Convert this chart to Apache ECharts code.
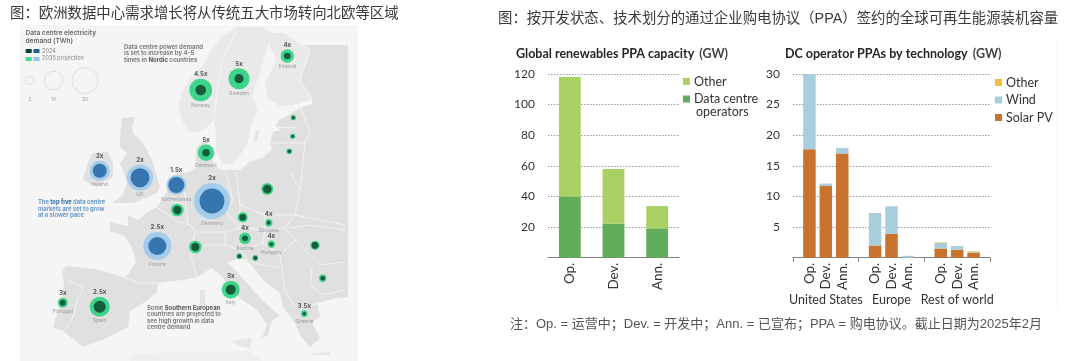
<!DOCTYPE html>
<html>
<head>
<meta charset="utf-8">
<script src="https://cdn.jsdelivr.net/npm/echarts@6/dist/echarts.min.js"></script>
<style>
html, body { margin: 0; padding: 0; background: #fff; }
#chart { width: 1080px; height: 361px; }
</style>
</head>
<body>
<div id="chart"></div>
<script>
// map sites: map units, 2024 and 2035 demand in TWh, growth label
var siteNames = ['Finland','Sweden','Norway','Denmark','Estonia','Latvia','Lithuania','Ireland','UK','Netherlands','Belgium','France','Switzerland','Spain','Portugal','Germany','Poland','Czechia','Slovakia','Austria','Hungary','Slovenia','Croatia','Romania','Bulgaria','Italy','Greece'];
var siteEast  = [287.3,239,200.7,206,293.3,292.7,289.3,99.7,140,176.3,177.3,157.3,195.3,99.7,62.7,212,267.3,242.7,268.7,245,271.3,239.3,255.3,315,322.7,230.7,304.3];
var siteSouth = [56,78.7,90,152.7,117.7,136.3,151.3,170.7,177.7,185,210,246,247,306.7,302.7,201,189,217.3,222.7,238.3,244.3,256.3,258,245.3,278.3,289.7,313.7];
var twh2024   = [1.3,2.5,3.3,1.7,0.3,0.3,0.35,5.7,10.5,7.5,2,9.5,2,4.2,1,18,2.2,1.3,0.45,1,0.45,0.45,0.45,1.3,0.6,3,0.35];
var twh2035   = [5.2,13,15,8,0.8,0.8,1,11.7,20,11.7,4.7,23,4.7,11.7,3,38,4.2,3,1.6,4,1.6,1,1,2.5,1.6,9.5,1.3];
var growth    = ['4x','5x','4.5x','5x','','','','2x','2x','1.5x','','2.5x','','2.5x','3x','2x','','','4x','4x','4x','','','','','3x','3.5x'];
var unnamedSites = ['Estonia','Latvia','Lithuania','Belgium','Switzerland','Poland','Czechia','Slovenia','Croatia','Romania','Bulgaria'];
var topFive = ['Ireland','UK','Netherlands','France','Germany'];
var sizeKeyValues = [2,10,20];
var sizeKeyEast = [30,53.5,85];

// left bar chart
var statusLabels = ['Op.','Dev.','Ann.'];
var dcOperators = [40,22.2,19.2];
var otherPpa = [78,35.7,14.5];

// right bar chart
var regionLabels = ['United States','Europe','Rest of world'];
var techSlots = ['','Op.','Dev.','Ann.','','Op.','Dev.','Ann.','','Op.','Dev.','Ann.',''];
var solarPv  = [null,17.7,11.7,17,null,2,3.9,0,null,1.5,1.3,0.8,null];
var wind     = [null,12.3,0.4,0.9,null,5.3,4.5,0.3,null,0.9,0.6,0.15,null];
var otherTech= [null,0,0,0,null,0,0,0,null,0.1,0,0.1,null];

var GREEN_DARK = '#0c3d27', GREEN = '#12d072', BLUE = '#1c5f9f', BLUE_LIGHT = '#94c5ec';
var SANS = 'Inter, "Noto Sans", sans-serif';
var CJK = '"Liberation Sans", "Noto Sans CJK SC", sans-serif';

// schematic outline of the map, traced by hand
function poly(name, pts) {
    return { type: 'Feature', properties: { name: name }, geometry: { type: 'Polygon', coordinates: [pts] } };
}
var mapShapes = { type: 'FeatureCollection', features: [
    poly('panel', [[20,25],[358,25],[358,361],[20,361],[20,25]]),
    poly('africa', [[130,361],[134,354],[180,352],[250,351],[262,361],[130,361]]),
    poly('continent', [[270,48],[277,58],[272,70],[265,85],[268,98],[280,106],[297,104],[312,99],[312,104],[300,108],[285,117],[279,120],[275,127],[282,130],[273,132],[270,143],[272,150],[262,158],[250,162],[240,170],[222,170],[213,166],[213,152],[206,138],[196,148],[196,168],[186,173],[178,172],[170,185],[163,198],[157,207],[148,212],[138,220],[128,215],[128,226],[110,222],[110,231],[125,236],[133,250],[136,262],[128,275],[123,277],[95,269],[67,266],[62,270],[64,285],[62,297],[53,328],[62,330],[72,338],[83,347],[107,338],[128,327],[130,311],[145,302],[157,292],[158,283],[172,281],[183,280],[197,277],[212,268],[222,277],[240,298],[257,310],[267,325],[262,338],[268,335],[272,320],[280,316],[262,300],[247,283],[235,270],[227,262],[240,258],[247,260],[252,266],[263,280],[280,293],[283,307],[295,323],[300,335],[310,347],[320,338],[312,323],[320,316],[317,303],[337,298],[348,297],[348,45],[285,45],[270,48]]),
    poly('finland', [[270,48],[277,58],[272,70],[265,85],[268,98],[280,106],[297,104],[312,99],[300,80],[310,50],[285,33],[268,33],[270,48]]),
    poly('scandinavia', [[237,27],[222,36],[212,48],[204,64],[192,76],[182,92],[178,106],[182,120],[188,131],[198,133],[208,126],[214,120],[216,135],[216,150],[222,163],[232,165],[240,155],[247,145],[250,130],[258,110],[252,95],[260,73],[267,48],[272,33],[262,27],[237,27]]),
    poly('britain', [[122,118],[135,117],[132,128],[133,133],[143,143],[152,160],[160,187],[157,193],[133,203],[112,203],[123,195],[127,183],[123,170],[120,163],[127,153],[120,147],[120,137],[122,118]]),
    poly('ireland', [[93,153],[108,152],[113,163],[113,177],[97,187],[83,180],[88,162],[93,153]]),
    poly('sardinia', [[200,290],[205,290],[205,306],[200,307],[200,290]]),
    poly('sicily', [[231,341],[252,338],[250,348],[240,346],[231,341]]),
    poly('gotland', [[255,130],[259,130],[257,142],[254,142],[255,130]]),
    poly('crete', [[312,353],[330,352],[330,355],[312,355],[312,353]])
]};
echarts.registerMap('europeSketch', mapShapes);

var borderPaths = [
    [[123,277],[140,283],[158,283]],
    [[67,280],[83,288],[77,300],[73,317],[65,330]],
    [[157,207],[178,222],[190,225],[195,232],[190,255],[197,277]],
    [[178,172],[185,195],[188,225]],
    [[163,198],[185,205]],
    [[195,232],[225,232],[240,228],[226,212],[233,200],[225,170]],
    [[190,255],[205,245],[225,245],[240,250],[247,260]],
    [[225,232],[225,245]],
    [[240,205],[265,215],[295,215],[300,190],[290,172]],
    [[236,172],[240,205],[240,228]],
    [[240,228],[265,230],[263,243],[240,250]],
    [[265,215],[265,230],[285,228],[295,215]],
    [[285,228],[295,240],[280,255],[263,243]],
    [[295,215],[345,225]],
    [[290,228],[310,225],[345,230]],
    [[295,240],[320,265],[345,262]],
    [[312,268],[310,285],[322,295],[345,290]],
    [[280,255],[285,290],[295,308],[320,303]],
    [[250,262],[280,268]],
    [[272,127],[300,128]],
    [[270,143],[305,143]],
    [[300,108],[310,130],[305,143],[300,190]],
    [[285,33],[310,50],[300,80],[312,99]],
    [[237,30],[222,60],[218,85],[214,118]]
];

function demandSize(v) {
    return 5.85 * Math.sqrt(v[2]);
}
function siteData(values) {
    return siteNames.map(function (n, i) {
        return { name: n, value: [siteEast[i], siteSouth[i], values[i]] };
    });
}
function text(str, x, y, size, color, weight, family) {
    return {
        text: str, left: x, top: y, padding: 0,
        textStyle: { fontSize: size, color: color, fontWeight: weight || 'normal', fontFamily: family || SANS, lineHeight: size + 1.5 }
    };
}
function richText(str, x, y, size, color, lineH, strongColor) {
    return {
        text: str, left: x, top: y, padding: 0,
        textStyle: {
            fontSize: size, color: color, fontFamily: SANS, lineHeight: lineH,
            rich: {
                n: { fontSize: size, color: color, fontFamily: SANS, lineHeight: lineH },
                b: { fontSize: size, color: strongColor, fontWeight: 'bold', fontFamily: SANS, lineHeight: lineH }
            }
        }
    };
}
function chartTitle(bold, x) {
    return {
        text: '{b|' + bold + '} {r|(GW)}', left: x, top: 45, padding: 0,
        textStyle: {
            rich: {
                b: { fontSize: 12.5, fontWeight: 'bold', color: '#262626', fontFamily: 'Lato' },
                r: { fontSize: 12.5, color: '#444', fontFamily: 'Lato' }
            }
        }
    };
}
var tickFont = { fontSize: 12.5, color: '#333', fontFamily: 'Lato' };
var gridDots = { type: [1.5, 1.5], color: '#999', width: 1 };

var option = {
    animation: false,
    backgroundColor: '#fff',
    title: [
        text('图：欧洲数据中心需求增长将从传统五大市场转向北欧等区域', 10, 6, 14.4, '#3a3a3a', 'normal', CJK),
        text('图：按开发状态、技术划分的通过企业购电协议（PPA）签约的全球可再生能源装机容量', 498, 11.5, 14.4, '#3a3a3a', 'normal', CJK),
        text('注：Op. = 运营中；Dev. = 开发中；Ann. = 已宣布；PPA = 购电协议。截止日期为2025年2月', 510, 316.8, 13, '#555', 'normal', CJK),
        chartTitle('Global renewables PPA capacity', 516),
        chartTitle('DC operator PPAs by technology', 785),
        text('operators', 696, 105, 12.5, '#333', 'normal', 'Lato'),
        text('Data centre electricity\ndemand (TWh)', 25.5, 28.7, 6.6, '#666', '600'),
        text('2024', 42, 47.5, 5.6, '#888'),
        text('2035 projection', 42, 55, 5.6, '#888'),
        richText('{n|Data centre power demand}\n{n|is set to increase by 4-5}\n{n|times in }{b|Nordic}{n| countries}', 124, 44, 6, '#808080', 6.4, '#555'),
        richText('{n|The }{b|top five}{n| data centre}\n{n|markets are set to grow}\n{n|at a slower pace}', 38, 199, 5.8, '#6a9bcc', 6.6, '#2a6aa8'),
        richText('{n|Some }{b|Southern European}\n{n|countries are projected to}\n{n|see high growth in data}\n{n|centre demand}', 147, 305, 5.9, '#808080', 6.4, '#555')
    ],
    geo: {
        map: 'europeSketch',
        projection: {
            project: function (p) { return p; },
            unproject: function (p) { return p; }
        },
        aspectScale: 1,
        left: 20, top: 25, width: 338, height: 336,
        roam: false,
        silent: true,
        label: { show: false },
        itemStyle: { areaColor: '#e0e0e0', borderWidth: 0, borderColor: 'transparent' },
        emphasis: { disabled: true },
        regions: [
            { name: 'panel', itemStyle: { areaColor: '#f5f5f5' } },
            { name: 'africa', itemStyle: { areaColor: '#efefef' } },
            { name: 'finland', itemStyle: { areaColor: '#e9e9e9' } },
            { name: 'scandinavia', itemStyle: { areaColor: '#e9e9e9' } },
            { name: 'sardinia', itemStyle: { areaColor: '#e6e6e6' } },
            { name: 'sicily', itemStyle: { areaColor: '#e6e6e6' } },
            { name: 'gotland', itemStyle: { areaColor: '#e6e6e6' } },
            { name: 'crete', itemStyle: { areaColor: '#e8e8e8' } }
        ]
    },
    grid: [
        { left: 548, top: 74, width: 131, height: 183.7 },
        { left: 793, top: 74, width: 197, height: 183.7 }
    ],
    xAxis: [
        {
            type: 'category', gridIndex: 0, data: statusLabels,
            axisLine: { lineStyle: { color: '#808080', width: 1 } },
            axisTick: { show: false },
            axisLabel: Object.assign({ rotate: 90, margin: 5 }, tickFont, { fontSize: 13.5 })
        },
        {
            type: 'category', gridIndex: 1, data: techSlots, boundaryGap: false,
            axisLine: { lineStyle: { color: '#808080', width: 1 } },
            axisTick: { show: true, length: 4, interval: function (i) { return i % 4 === 0; }, lineStyle: { color: '#808080' } },
            axisLabel: Object.assign({ rotate: 90, margin: 5, interval: 0 }, tickFont, { fontSize: 13.5 })
        },
        {
            type: 'category', gridIndex: 1, data: regionLabels, position: 'bottom', offset: 36,
            axisLine: { show: false },
            axisTick: { show: false },
            axisLabel: Object.assign({ interval: 0, margin: 0 }, tickFont)
        }
    ],
    yAxis: [
        {
            type: 'value', gridIndex: 0, min: 0, max: 120, interval: 20,
            axisLine: { show: false }, axisTick: { show: false },
            axisLabel: Object.assign({ showMinLabel: false, margin: 13 }, tickFont, { fontSize: 12 }),
            splitLine: { lineStyle: gridDots }
        },
        {
            type: 'value', gridIndex: 1, min: 0, max: 30, interval: 5,
            axisLine: { show: false }, axisTick: { show: false },
            axisLabel: Object.assign({ showMinLabel: false, margin: 13 }, tickFont, { fontSize: 12 }),
            splitLine: { lineStyle: gridDots }
        }
    ],
    legend: [
        {
            left: 683, top: 75, padding: 0, orient: 'vertical', itemWidth: 7, itemHeight: 7, itemGap: 4.5, icon: 'rect',
            selectedMode: false,
            formatter: function (n) { return n === 'Data centre operators' ? 'Data centre' : n; },
            textStyle: { fontSize: 12.5, color: '#333', fontFamily: 'Lato', padding: [0, 0, 0, -1] },
            data: [
                { name: 'Other', itemStyle: { color: '#a8d063' } },
                { name: 'Data centre operators', itemStyle: { color: '#62ad5c' } }
            ]
        },
        {
            left: 995, top: 76, padding: 0, orient: 'vertical', itemWidth: 7, itemHeight: 7, itemGap: 4.5, icon: 'rect',
            selectedMode: false,
            textStyle: { fontSize: 12.5, color: '#333', fontFamily: 'Lato', padding: [0, 0, 0, -1] },
            data: [
                { name: 'Other', itemStyle: { color: '#f2c038' } },
                { name: 'Wind', itemStyle: { color: '#a8cede' } },
                { name: 'Solar PV', itemStyle: { color: '#c8722c' } }
            ]
        }
    ],
    series: [
        {
            type: 'lines', coordinateSystem: 'geo', polyline: true, silent: true, z: 1,
            lineStyle: { color: '#fff', width: 0.6, opacity: 1 },
            data: borderPaths.map(function (p) { return { coords: p }; })
        },
        {
            name: 'size key', type: 'scatter', coordinateSystem: 'geo', z: 2, silent: true,
            symbolSize: demandSize,
            itemStyle: { color: 'transparent', borderColor: '#cfcfcf', borderWidth: 0.8 },
            data: sizeKeyValues.map(function (v, i) { return [sizeKeyEast[i], 80.5, v]; })
        },
        {
            name: 'size key labels', type: 'scatter', coordinateSystem: 'geo', z: 2, silent: true,
            symbolSize: 0,
            label: { show: true, position: 'inside', fontSize: 5, color: '#888', fontFamily: SANS, formatter: function (p) { return p.value[2]; } },
            data: sizeKeyValues.map(function (v, i) { return [sizeKeyEast[i], 99, v]; })
        },
        {
            name: '2035 projection', type: 'scatter', coordinateSystem: 'geo', z: 3, silent: true,
            symbolSize: demandSize,
            itemStyle: { color: function (p) { return topFive.indexOf(p.name) >= 0 ? BLUE_LIGHT : GREEN; } },
            label: {
                show: true, position: 'top', distance: 1.5, fontSize: 6.2, fontWeight: 'bold', color: '#333', fontFamily: SANS,
                formatter: function (p) { return growth[p.dataIndex]; }
            },
            data: siteData(twh2035)
        },
        {
            name: '2024', type: 'scatter', coordinateSystem: 'geo', z: 4, silent: true,
            symbolSize: demandSize,
            itemStyle: { color: function (p) { return topFive.indexOf(p.name) >= 0 ? BLUE : GREEN_DARK; } },
            data: siteData(twh2024)
        },
        {
            name: 'site names', type: 'scatter', coordinateSystem: 'geo', z: 4, silent: true,
            symbolSize: demandSize,
            itemStyle: { color: 'transparent' },
            label: {
                show: true, position: 'bottom', distance: 1.5, fontSize: 5.2, color: '#8a8a8a', fontFamily: SANS,
                formatter: function (p) { return unnamedSites.indexOf(p.name) >= 0 ? '' : p.name; }
            },
            data: siteData(twh2035)
        },
        {
            name: 'Data centre operators', type: 'bar', stack: 'status', xAxisIndex: 0, yAxisIndex: 0, barWidth: '50%',
            itemStyle: { color: '#62ad5c' }, data: dcOperators
        },
        {
            name: 'Other', type: 'bar', stack: 'status', xAxisIndex: 0, yAxisIndex: 0, barWidth: '50%',
            itemStyle: { color: '#a8d063' }, data: otherPpa
        },
        {
            name: 'Solar PV', type: 'bar', stack: 'tech', xAxisIndex: 1, yAxisIndex: 1, barWidth: 12.5,
            itemStyle: { color: '#c8722c' }, data: solarPv
        },
        {
            name: 'Wind', type: 'bar', stack: 'tech', xAxisIndex: 1, yAxisIndex: 1, barWidth: 12.5,
            itemStyle: { color: '#a8cede' }, data: wind
        },
        {
            name: 'Other', type: 'bar', stack: 'tech', xAxisIndex: 1, yAxisIndex: 1, barWidth: 12.5,
            itemStyle: { color: '#f2c038' }, data: otherTech
        }
    ],
    graphic: [
        { type: 'rect', shape: { x: 25.7, y: 49, width: 6, height: 4 }, style: { fill: GREEN_DARK }, z: 10 },
        { type: 'rect', shape: { x: 33.5, y: 49, width: 6, height: 4 }, style: { fill: BLUE }, z: 10 },
        { type: 'rect', shape: { x: 25.7, y: 57, width: 6, height: 4 }, style: { fill: '#3ddc8c' }, z: 10 },
        { type: 'rect', shape: { x: 33.5, y: 57, width: 6, height: 4 }, style: { fill: BLUE_LIGHT }, z: 10 },
        { type: 'line', shape: { x1: 1057.5, y1: 40, x2: 1057.5, y2: 311 }, style: { stroke: '#f3f3f3', lineWidth: 1 } }
    ]
};

var myChart = echarts.init(document.getElementById('chart'));
myChart.setOption(option);
</script>
</body>
</html>
